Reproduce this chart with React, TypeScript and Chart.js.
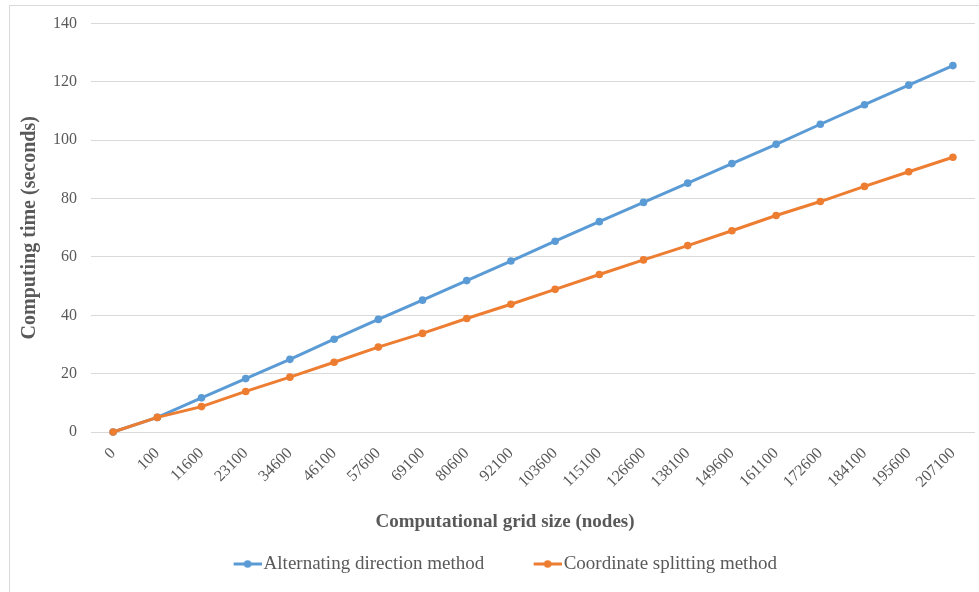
import React, { useEffect, useRef } from "react";
import { Chart, registerables } from "chart.js";

Chart.register(...registerables);

const categories = [
  "0", "100", "11600", "23100", "34600", "46100", "57600", "69100", "80600", "92100",
  "103600", "115100", "126600", "138100", "149600", "161100", "172600", "184100", "195600", "207100",
];
const alternatingDirection = [
  0, 5, 11.7, 18.3, 24.9, 31.8, 38.6, 45.2, 51.9, 58.6,
  65.4, 72.1, 78.7, 85.3, 92.0, 98.6, 105.5, 112.2, 118.9, 125.6,
];
const coordinateSplitting = [
  0, 5, 8.7, 13.9, 18.8, 23.9, 29.1, 33.8, 38.9, 43.8,
  48.9, 54.0, 59.0, 63.9, 69.0, 74.2, 79.0, 84.2, 89.2, 94.2,
];
const seriesNames = ["Alternating direction method", "Coordinate splitting method"];
const seriesColors = ["#5b9bd5", "#ed7d31"];
const yMin = 0;
const yMax = 140;
const yStep = 20;

const FAMILY = "'Liberation Serif', 'Times New Roman', serif";
const TEXT = "#595959";
const GRID = "#d9d9d9";

function makeMarker(color: string): HTMLCanvasElement {
  const c = document.createElement("canvas");
  c.width = 36;
  c.height = 10;
  const g = c.getContext("2d")!;
  g.strokeStyle = color;
  g.lineWidth = 3;
  g.beginPath();
  g.moveTo(8, 5);
  g.lineTo(36, 5);
  g.stroke();
  g.fillStyle = color;
  g.beginPath();
  g.arc(22, 5, 3.8, 0, Math.PI * 2);
  g.fill();
  return c;
}

const frame = {
  id: "frame",
  beforeDraw(chart: any) {
    const ctx = chart.ctx;
    ctx.save();
    ctx.fillStyle = "#ffffff";
    ctx.fillRect(0, 0, chart.width, chart.height);
    ctx.strokeStyle = GRID;
    ctx.lineWidth = 1;
    ctx.strokeRect(9.5, 5.5, 2000, 2000);
    ctx.restore();
  },
};

export default function App() {
  const ref = useRef<HTMLCanvasElement | null>(null);

  useEffect(() => {
    if (!ref.current) return;
    const markers = seriesColors.map(makeMarker);
    const mkDataset = (i: number, data: number[], order: number) => ({
      label: seriesNames[i],
      data,
      borderColor: seriesColors[i],
      backgroundColor: seriesColors[i],
      pointBackgroundColor: seriesColors[i],
      pointBorderColor: seriesColors[i],
      borderWidth: 3,
      pointRadius: 3.8,
      pointBorderWidth: 0,
      tension: 0,
      clip: false,
      order,
    });
    const chart = new Chart(ref.current, {
      type: "line",
      data: {
        labels: categories,
        datasets: [mkDataset(0, alternatingDirection, 1), mkDataset(1, coordinateSplitting, 0)],
      },
      options: {
        responsive: false,
        animation: false,
        devicePixelRatio: 1,
        layout: { padding: { left: 33, right: 2, top: 22, bottom: 8.5 } },
        scales: {
          x: {
            type: "category",
            offset: true,
            grid: { display: false },
            border: { display: false },
            ticks: {
              color: TEXT,
              font: { size: 16, family: FAMILY },
              maxRotation: 45,
              minRotation: 45,
              padding: 4,
              autoSkip: false,
            },
            afterFit: (s: any) => {
              s.height = 70;
            },
          },
          y: {
            min: yMin,
            max: yMax,
            ticks: {
              stepSize: yStep,
              color: TEXT,
              font: { size: 16, family: FAMILY },
              padding: 14,
            },
            grid: { color: GRID, lineWidth: 1, drawTicks: false },
            border: { display: false },
            title: {
              display: true,
              text: "Computing time (seconds)",
              color: TEXT,
              font: { size: 20, weight: "bold", family: FAMILY, lineHeight: "22px" },
              padding: { top: -14.5, bottom: 0 },
            },
            afterFit: (s: any) => {
              s.width = 58;
            },
          },
        },
        plugins: {
          legend: {
            display: true,
            position: "bottom",
            labels: {
              usePointStyle: true,
              pointStyleWidth: 21,
              padding: 49,
              color: TEXT,
              font: { size: 19, family: FAMILY },
              generateLabels: (c: any) =>
                c.data.datasets.map((ds: any, i: number) => ({
                  text: ds.label,
                  fillStyle: ds.borderColor,
                  strokeStyle: ds.borderColor,
                  fontColor: TEXT,
                  lineWidth: 0,
                  pointStyle: markers[i],
                  hidden: false,
                  datasetIndex: i,
                })),
            },
          },
          title: {
            display: true,
            position: "bottom",
            weight: 500,
            text: "Computational grid size (nodes)",
            color: TEXT,
            font: { size: 19, weight: "bold", family: FAMILY, lineHeight: "22px" },
            padding: { top: 9, bottom: -27.5 },
          },
          tooltip: { enabled: false },
        },
      } as any,
      plugins: [frame],
    });
    return () => chart.destroy();
  }, []);

  return (
    <div style={{ position: "fixed", left: 0, top: 0, width: 979, height: 592, background: "#fff" }}>
      <canvas ref={ref} width={979} height={592} style={{ display: "block" }} />
    </div>
  );
}
